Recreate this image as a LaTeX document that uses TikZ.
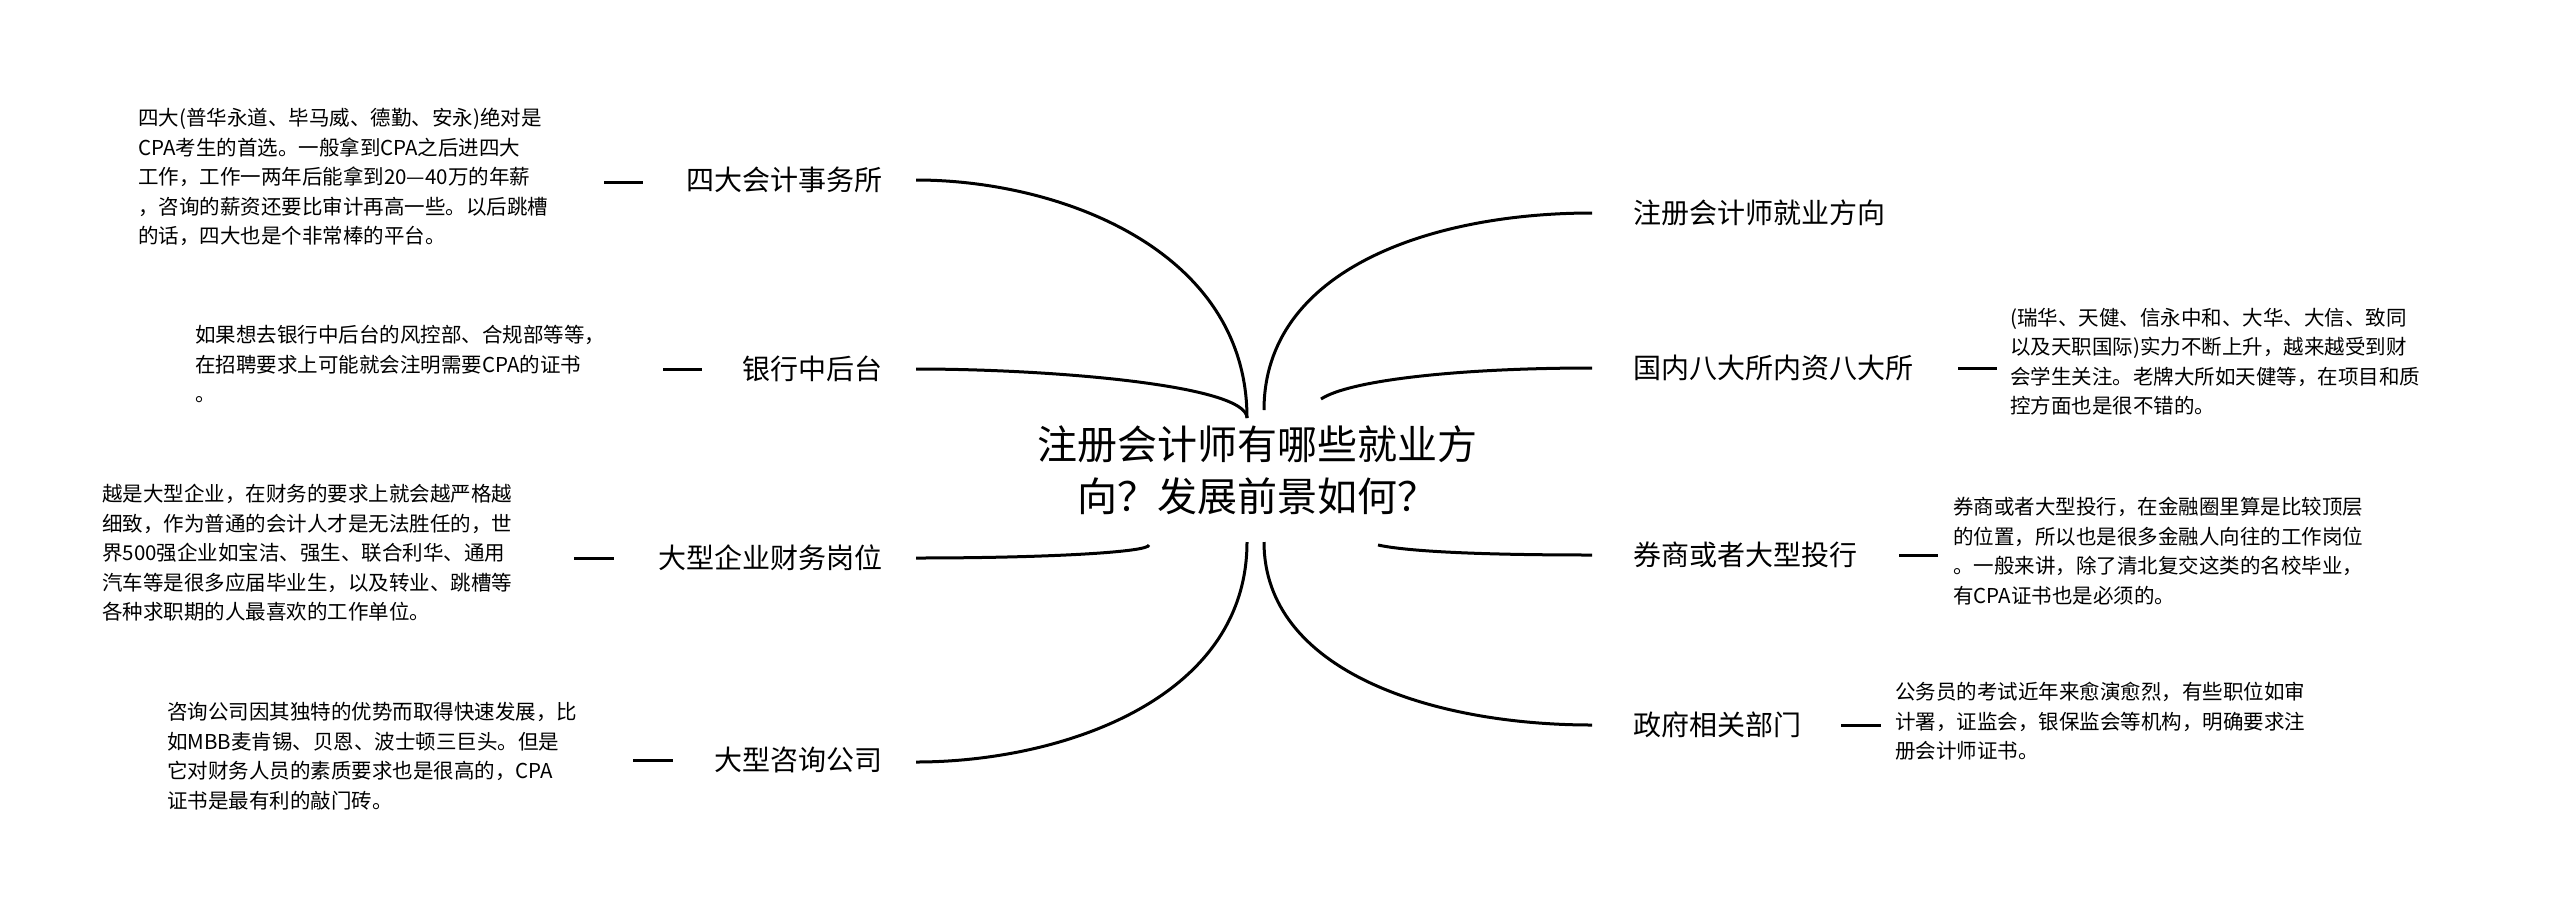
\documentclass[tikz,border=0pt]{standalone}
\usepackage{fontspec}
\setmainfont{Noto Sans CJK SC}
\begin{document}
\begin{tikzpicture}[x=1pt,y=-1pt,
  lbl/.style={inner sep=0,font=\fontsize{28}{34}\selectfont},
  desc/.style={inner sep=0,anchor=north west,align=left,font=\fontsize{20.5}{29.5}\selectfont},
  br/.style={line width=3pt},
  dsh/.style={line width=3pt}]
\useasboundingbox[fill=white] (0,0) rectangle (2560,922);
\node[inner sep=0,align=center,font=\fontsize{40}{52}\selectfont] (c) at (1257,470) {注册会计师有哪些就业方\\向？发展前景如何？};
\coordinate (lt) at (1247,418);
\coordinate (lb) at (1247,542);
\coordinate (rt) at (1264,410);
\coordinate (rb) at (1264,542);
\coordinate (rt2) at (1321,399);
\coordinate (rb2) at (1378,545);
\coordinate (lb2) at (1149,545);
% left labels
\node[lbl,anchor=east] (l1) at (883,180) {四大会计事务所};
\node[lbl,anchor=east] (l2) at (883,369) {银行中后台};
\node[lbl,anchor=east] (l3) at (883,558) {大型企业财务岗位};
\node[lbl,anchor=east] (l4) at (883,760) {大型咨询公司};
\coordinate (e1) at (916,180);
\coordinate (e2) at (916,369);
\coordinate (e3) at (916,558);
\coordinate (e4) at (916,762);
\draw[br] (lt) .. controls (1247,250) and (1060,180) .. (e1);
\draw[br] (lt) .. controls (1247,385) and (1050,369) .. (e2);
\draw[br] (lb2) .. controls (1149,552) and (1050,558) .. (e3);
\draw[br] (lb) .. controls (1247,700) and (1060,762) .. (e4);
% right labels
\node[lbl,anchor=west] (r1) at (1633,213) {注册会计师就业方向};
\node[lbl,anchor=west] (r2) at (1633,368) {国内八大所内资八大所};
\node[lbl,anchor=west] (r3) at (1633,555) {券商或者大型投行};
\node[lbl,anchor=west] (r4) at (1633,725) {政府相关部门};
\coordinate (f1) at (1592,213);
\coordinate (f2) at (1592,368);
\coordinate (f3) at (1592,555);
\coordinate (f4) at (1592,725);
\draw[br] (rt) .. controls (1264,270) and (1430,213) .. (f1);
\draw[br] (rt2) .. controls (1350,380) and (1460,368) .. (f2);
\draw[br] (rb2) .. controls (1410,552) and (1490,555) .. (f3);
\draw[br] (rb) .. controls (1264,670) and (1430,725) .. (f4);
% dashes
\coordinate (d1a) at (604,182); \coordinate (d1b) at (643,182);
\coordinate (d2a) at (663,369); \coordinate (d2b) at (702,369);
\coordinate (d3a) at (574,558); \coordinate (d3b) at (614,558);
\coordinate (d4a) at (633,760); \coordinate (d4b) at (673,760);
\coordinate (d5a) at (1958,368); \coordinate (d5b) at (1997,368);
\coordinate (d6a) at (1899,555); \coordinate (d6b) at (1938,555);
\coordinate (d7a) at (1841,725); \coordinate (d7b) at (1881,725);
\foreach \i in {1,...,7} {\draw[dsh] (d\i a) -- (d\i b);}
% descriptions
\node[desc] (t1) at (138,108) {四大(普华永道、毕马威、德勤、安永)绝对是\\CPA考生的首选。一般拿到CPA之后进四大\\工作，工作一两年后能拿到20—40万的年薪\\，咨询的薪资还要比审计再高一些。以后跳槽\\的话，四大也是个非常棒的平台。};
\node[desc] (t2) at (195,325) {如果想去银行中后台的风控部、合规部等等，\\在招聘要求上可能就会注明需要CPA的证书\\。};
\node[desc] (t3) at (102,484) {越是大型企业，在财务的要求上就会越严格越\\细致，作为普通的会计人才是无法胜任的，世\\界500强企业如宝洁、强生、联合利华、通用\\汽车等是很多应届毕业生，以及转业、跳槽等\\各种求职期的人最喜欢的工作单位。};
\node[desc] (t4) at (167,702) {咨询公司因其独特的优势而取得快速发展，比\\如MBB麦肯锡、贝恩、波士顿三巨头。但是\\它对财务人员的素质要求也是很高的，CPA\\证书是最有利的敲门砖。};
\node[desc] (t5) at (2010,308) {(瑞华、天健、信永中和、大华、大信、致同\\以及天职国际)实力不断上升，越来越受到财\\会学生关注。老牌大所如天健等，在项目和质\\控方面也是很不错的。};
\node[desc] (t6) at (1953,497) {券商或者大型投行，在金融圈里算是比较顶层\\的位置，所以也是很多金融人向往的工作岗位\\。一般来讲，除了清北复交这类的名校毕业，\\有CPA证书也是必须的。};
\node[desc] (t7) at (1895,682) {公务员的考试近年来愈演愈烈，有些职位如审\\计署，证监会，银保监会等机构，明确要求注\\册会计师证书。};
\end{tikzpicture}
\end{document}
